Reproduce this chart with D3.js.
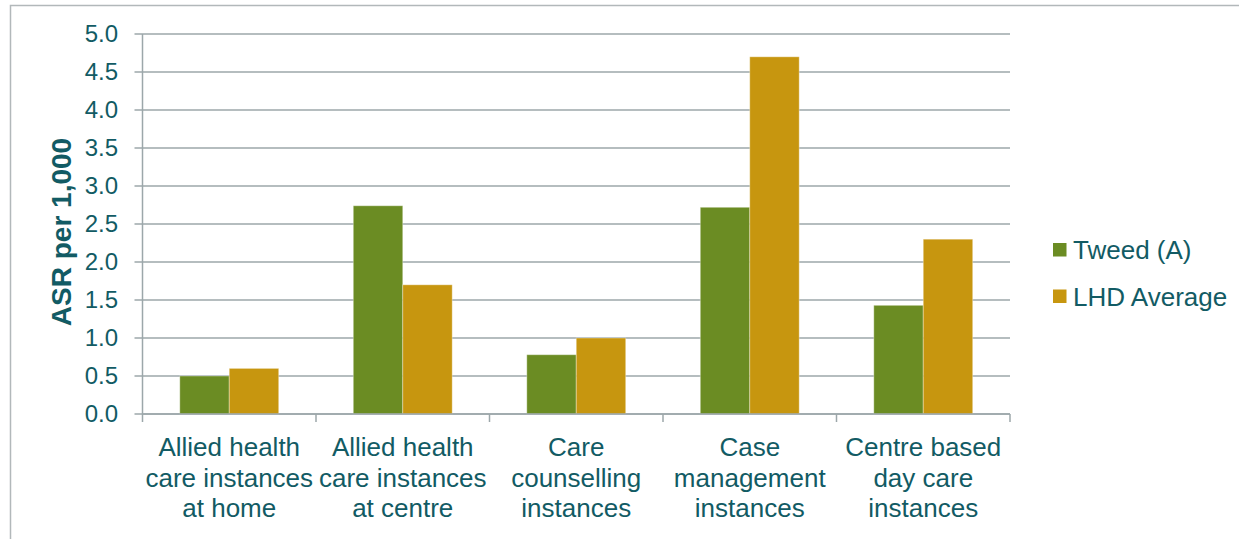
<!DOCTYPE html>
<html>
<head>
<meta charset="utf-8">
<script src="https://cdn.jsdelivr.net/npm/d3@7"></script>
<style>
  html, body { margin: 0; padding: 0; background: #fff; }
  svg { display: block; font-family: "Liberation Sans", Arial, sans-serif; }
</style>
</head>
<body>
<svg id="chart" width="1239" height="539"></svg>
<script>
// Service categories (each label split into display lines)
const categories = [
  "Allied health care instances at home",
  "Allied health care instances at centre",
  "Care counselling instances",
  "Case management instances",
  "Centre based day care instances"
];
const categoryLines = [
  ["Allied health", "care instances", "at home"],
  ["Allied health", "care instances", "at centre"],
  ["Care", "counselling", "instances"],
  ["Case", "management", "instances"],
  ["Centre based", "day care", "instances"]
];
const seriesNames = ["Tweed (A)", "LHD Average"];
const tweedValues = [0.50, 2.74, 0.78, 2.72, 1.43];
const lhdValues = [0.60, 1.70, 1.00, 4.70, 2.30];
const yTicks = [0, 0.5, 1.0, 1.5, 2.0, 2.5, 3.0, 3.5, 4.0, 4.5, 5.0];
const yTitle = "ASR per 1,000";

const colors = ["#6b8c23", "#c7960f"];
const textColor = "#125b64";
const gridColor = "#9ca7aa";

const svg = d3.select("#chart");

// Outer frame
svg.append("rect")
  .attr("x", 10.5).attr("y", 5.5)
  .attr("width", 1300).attr("height", 600)
  .attr("fill", "none").attr("stroke", "#b2b8ba").attr("stroke-width", 1.5);

const plot = { left: 142.5, right: 1010, top: 34, bottom: 414 };

const x = d3.scaleBand().domain(categories).range([plot.left, plot.right]).paddingInner(0).paddingOuter(0);
const xs = d3.scaleBand().domain(seriesNames).range([0, x.bandwidth()]).paddingInner(0).paddingOuter(0.754);
const y = d3.scaleLinear().domain([0, 5]).range([plot.bottom, plot.top]);

// Horizontal gridlines
svg.append("g").selectAll("line").data(yTicks).join("line")
  .attr("x1", plot.left - 8).attr("x2", plot.right)
  .attr("y1", d => y(d)).attr("y2", d => y(d))
  .attr("stroke", gridColor).attr("stroke-width", 1.5);

// Bars
const rows = categories.map((c, i) => ({ cat: c, vals: [tweedValues[i], lhdValues[i]] }));
svg.append("g").selectAll("g").data(rows).join("g")
  .attr("transform", d => `translate(${x(d.cat)},0)`)
  .selectAll("rect").data(d => d.vals.map((v, j) => ({ name: seriesNames[j], v, j })))
  .join("rect")
  .attr("x", d => xs(d.name))
  .attr("width", xs.bandwidth())
  .attr("y", d => y(d.v))
  .attr("height", d => y(0) - y(d.v))
  .attr("fill", d => colors[d.j])
  .attr("stroke", "rgba(255,255,255,0.35)")
  .attr("stroke-width", 1);

// Y axis line and category separators
svg.append("line")
  .attr("x1", plot.left).attr("x2", plot.left)
  .attr("y1", plot.top).attr("y2", plot.bottom + 8)
  .attr("stroke", gridColor).attr("stroke-width", 1.5);
svg.append("line")
  .attr("x1", plot.left).attr("x2", plot.right)
  .attr("y1", plot.bottom).attr("y2", plot.bottom)
  .attr("stroke", gridColor).attr("stroke-width", 1.5);
const seps = categories.map(c => x(c) + x.bandwidth());
svg.append("g").selectAll("line").data(seps).join("line")
  .attr("x1", d => d).attr("x2", d => d)
  .attr("y1", plot.bottom).attr("y2", plot.bottom + 8)
  .attr("stroke", gridColor).attr("stroke-width", 1.5);

// Y tick labels
svg.append("g").selectAll("text").data(yTicks).join("text")
  .attr("x", 118).attr("y", d => y(d))
  .attr("dy", "0.35em")
  .attr("text-anchor", "end")
  .attr("font-size", 24)
  .attr("fill", textColor)
  .text(d => d3.format(".1f")(d));

// Y axis title
svg.append("text")
  .attr("transform", "translate(71,232) rotate(-90)")
  .attr("text-anchor", "middle")
  .attr("font-size", 28)
  .attr("font-weight", "bold")
  .attr("fill", textColor)
  .text(yTitle);

// Category labels
const catG = svg.append("g").selectAll("text").data(categories).join("text")
  .attr("text-anchor", "middle")
  .attr("font-size", 26)
  .attr("fill", textColor);
catG.selectAll("tspan").data((d, i) => categoryLines[i]).join("tspan")
  .attr("x", function() { const c = d3.select(this.parentNode).datum(); return x(c) + x.bandwidth() / 2; })
  .attr("y", (d, k) => 456 + k * 30.7)
  .text(d => d);

// Legend
const legend = svg.append("g").selectAll("g").data(seriesNames).join("g")
  .attr("transform", (d, i) => `translate(1053,${243 + i * 46.5})`);
legend.append("rect").attr("width", 13.5).attr("height", 13.5).attr("fill", (d, i) => colors[i]);
legend.append("text")
  .attr("x", 20).attr("y", 7).attr("dy", "0.35em")
  .attr("font-size", 26).attr("fill", textColor)
  .text(d => d);
</script>
</body>
</html>
